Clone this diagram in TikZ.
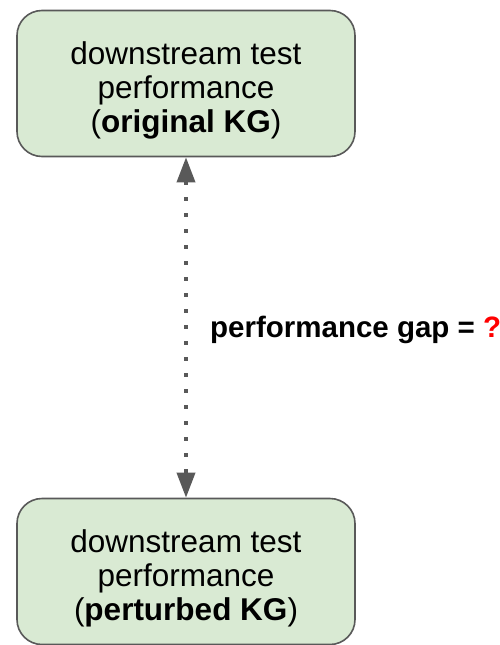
\documentclass[tikz,border=0pt]{standalone}
\usepackage{fontspec}
\setmainfont{Liberation Sans}
\usetikzlibrary{arrows.meta}
\definecolor{boxfill}{HTML}{D9EAD3}
\definecolor{edgegray}{HTML}{595959}
\definecolor{qred}{HTML}{FF0000}
\tikzset{
  perfbox/.style={draw=edgegray, line width=1.6pt, fill=boxfill,
    rounded corners=25pt, minimum width=338pt, minimum height=146pt,
    inner sep=0pt},
  perftext/.style={inner sep=0pt, align=center,
    font=\fontsize{31.5}{34}\selectfont},
  gaparrow/.style={draw=edgegray, line width=3.6pt, dash pattern=on 3.6pt off 12.4pt,
    {Triangle[length=25pt,width=18pt]}-{Triangle[length=25pt,width=18pt]}},
  gaplabel/.style={anchor=west, inner sep=0pt,
    font=\fontsize{29.5}{34}\selectfont\bfseries}
}
\begin{document}
\begin{tikzpicture}[x=1pt,y=-1pt]
  \useasboundingbox (0,0) rectangle (500,645);
  % the two rounded boxes
  \node[perfbox] (orig) at (186,83.5) {};
  \node[perfbox] (pert) at (186,571.5) {};
  % their captions, centred a little below the box centres
  \node[perftext] (origtext) at ([yshift=-7pt]orig.center)
    {downstream test\\performance\\(\textbf{original KG})};
  \node[perftext] (perttext) at ([yshift=-7pt]pert.center)
    {downstream test\\performance\\(\textbf{perturbed KG})};
  % dotted double-headed arrow between the boxes
  \draw[gaparrow] (orig.south) -- (pert.north);
  \node[gaplabel] (gap) at (210,330)
    {performance gap = \textcolor{qred}{?}};
\end{tikzpicture}
\end{document}
